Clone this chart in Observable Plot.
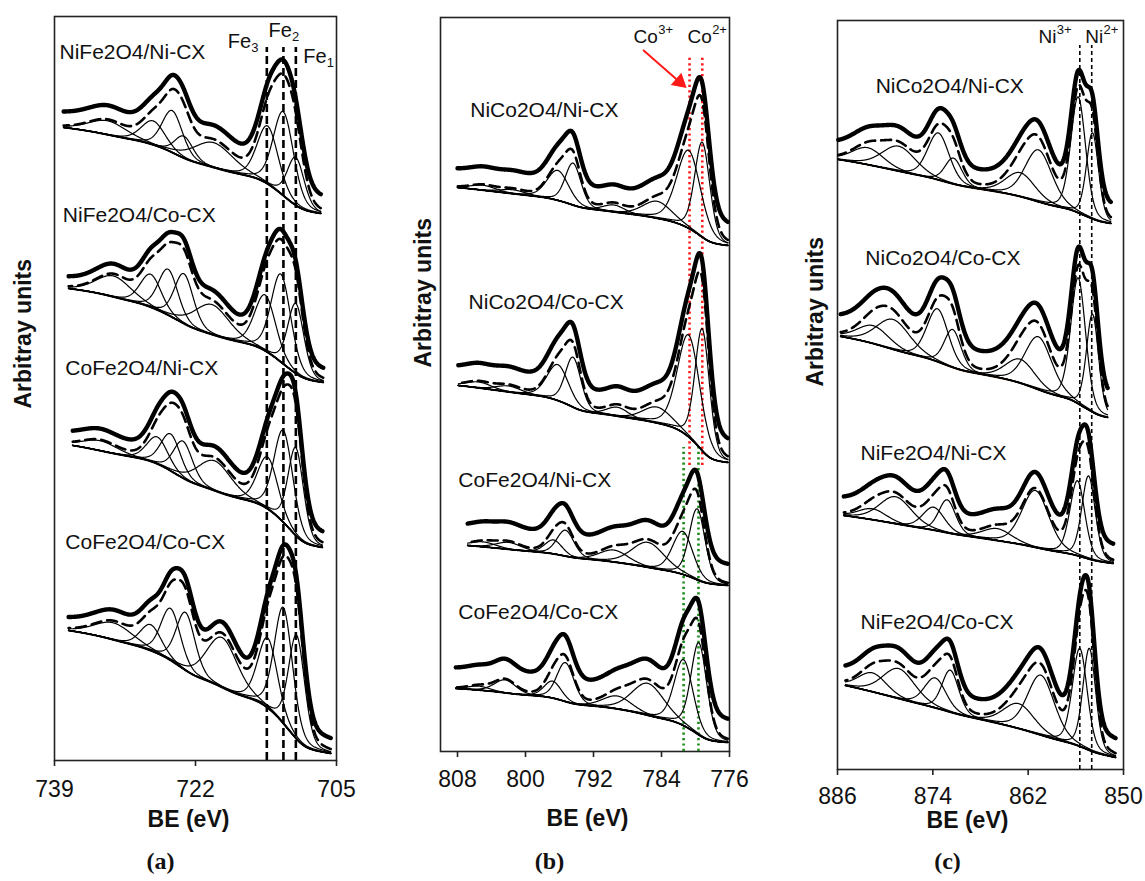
<!DOCTYPE html>
<html><head><meta charset="utf-8">
<script src="https://cdn.jsdelivr.net/npm/d3@7"></script>
<script src="https://cdn.jsdelivr.net/npm/@observablehq/plot@0.6"></script>
<style>
body{margin:0;background:#fff;}
#fig{position:relative;width:1145px;height:881px;overflow:hidden;background:#fff;}
#fig svg{position:absolute;top:0;}
</style></head><body><div id="fig"></div>
<script>
// ---------- DATA ----------
// Peaks: [binding energy (eV), height above background (arb.), FWHM (eV)]
// Background: [level at low-BE end, linear rise, Shirley step]
const feSamples = ["NiFe2O4/Ni-CX", "NiFe2O4/Co-CX", "CoFe2O4/Ni-CX", "CoFe2O4/Co-CX"];
const feScan = [[737.9, 706.9], [737.3, 706.6], [736.8, 706.7], [737.3, 705.7]];
const feBackground = [[547, 30, 56], [378, 32, 62], [213, 35, 67], [7, 38, 85]];
const feOffset = [14, 10, 11, 11];
const fePeaks = [
  [[732.6, 14, 5.4], [727.1, 24, 3.4], [724.8, 42, 2.9], [723.4, 22, 2.6], [719.8, 25, 5.6], [713.3, 58, 3.0], [711.4, 84, 2.9], [709.9, 48, 2.4]],
  [[731.9, 21, 5.0], [727.4, 33, 3.0], [725.3, 46, 2.8], [723.4, 50, 2.7], [720.0, 30, 5.0], [713.6, 56, 3.0], [711.7, 88, 2.8], [709.9, 70, 2.3]],
  [[733.5, 10, 5.0], [726.6, 27, 3.0], [725.0, 37, 2.8], [723.5, 37, 2.7], [719.7, 30, 4.8], [713.3, 52, 2.9], [711.4, 92, 2.7], [709.9, 88, 2.2]],
  [[731.9, 17, 5.5], [727.4, 26, 3.0], [725.0, 52, 2.8], [723.2, 58, 2.7], [718.8, 50, 4.4], [713.3, 70, 2.8], [711.4, 116, 2.6], [709.8, 104, 2.3]]
];
const feLines = [713.4, 711.4, 709.9];

const coSamples = ["NiCo2O4/Ni-CX", "NiCo2O4/Co-CX", "CoFe2O4/Ni-CX", "CoFe2O4/Co-CX"];
const coScan = [[808.0, 776.2], [807.9, 776.2], [806.8, 776.2], [808.2, 776.2]];
const coBackground = [[506, 25, 33], [289, 25, 52], [166, 18, 22], [9, 15, 39]];
const coOffset = [18, 18, 19, 20];
const coPeaks = [
  [[805.0, 5, 3.5], [801.5, 4, 3.5], [796.2, 30, 3.0], [794.4, 42, 2.2], [789.6, 7, 3.0], [784.5, 17, 4.0], [780.8, 78, 3.3], [779.2, 95, 2.1]],
  [[805.5, 6, 3.5], [802.0, 6, 3.5], [796.2, 36, 3.0], [794.4, 50, 2.2], [789.2, 9, 3.0], [784.5, 16, 4.0], [780.8, 102, 3.1], [779.2, 122, 2.0]],
  [[805.0, 5, 3.5], [802.0, 7, 3.5], [796.7, 14, 2.4], [795.3, 26, 2.4], [789.6, 12, 4.0], [785.6, 25, 4.5], [781.5, 43, 2.8], [779.8, 71, 2.2]],
  [[805.5, 4, 3.0], [802.4, 13, 3.0], [796.8, 17, 2.4], [795.3, 39, 2.4], [789.2, 13, 4.0], [785.6, 32, 4.5], [781.4, 66, 2.6], [779.6, 92, 2.2]]
];
const coLinesRed = [780.7, 779.2];
const coLinesGreen = [781.4, 779.65];

const niSamples = ["NiCo2O4/Ni-CX", "NiCo2O4/Co-CX", "NiFe2O4/Ni-CX", "NiFe2O4/Co-CX"];
const niScan = [[885.9, 851.6], [885.6, 852.0], [885.2, 851.3], [885.0, 851.0]];
const niBackground = [[546, 40, 24], [352, 45, 36], [206, 36, 12], [12, 58, 14]];
const niOffset = [15, 18, 16, 15];
const niPeaks = [
  [[882.2, 17, 4.7], [878.3, 25, 5.0], [873.3, 47, 3.2], [871.4, 26, 2.5], [863.0, 24, 4.4], [860.7, 52, 4.0], [855.7, 116, 2.2], [853.9, 86, 1.8]],
  [[881.5, 18, 4.7], [879.0, 30, 5.0], [873.4, 53, 3.2], [871.5, 38, 2.5], [863.0, 24, 4.4], [860.7, 53, 4.0], [855.7, 126, 2.2], [853.9, 98, 1.8]],
  [[881.6, 11, 4.2], [878.7, 27, 4.8], [873.9, 23, 3.2], [872.2, 33, 2.5], [865.9, 12, 4.4], [861.1, 57, 4.0], [855.8, 75, 2.2], [854.4, 83, 2.0]],
  [[881.6, 19, 4.2], [878.3, 30, 4.8], [873.7, 30, 3.2], [871.8, 42, 2.5], [863.2, 25, 4.6], [860.4, 60, 4.0], [855.5, 98, 2.2], [854.3, 102, 1.9]]
];
const niLines = [855.5, 854.0];

// ---------- MODEL EVALUATION ----------
const MIX = 0.25;
function profile(x, c, h, w) {
  const d2 = 4 * ((x - c) / w) ** 2;
  return h * ((1 - MIX) * Math.exp(-Math.LN2 * d2) + MIX / (1 + d2));
}
function spectrumRows(id, scan, bgPar, peaks, offset, out) {
  const [hi, lo] = scan;
  const n = Math.round((hi - lo) / 0.05);
  const xs = d3.range(n + 1).map(i => lo + (hi - lo) * i / n);
  const comps = peaks.map(([c, h, w]) => xs.map(x => profile(x, c, h, w)));
  const sum = xs.map((_, i) => d3.sum(comps, cc => cc[i]));
  const cum = d3.cumsum(sum), tot = cum[n];
  const [yR, lin, step] = bgPar;
  const bg = xs.map((x, i) => yR + lin * (x - lo) / (hi - lo) + step * cum[i] / tot);
  xs.forEach((x, i) => {
    out.bg.push({be: x, v: bg[i], id});
    out.env.push({be: x, v: bg[i] + sum[i], id});
    out.data.push({be: x, v: bg[i] + sum[i] + offset, id});
    comps.forEach((cc, k) => out.comp.push({be: x, v: bg[i] + cc[i], id: id + "-" + k}));
  });
}

// ---------- LAYOUT ----------
const FONT = "'Liberation Sans', Arial, Helvetica, sans-serif";
const panels = [
  {key: "a", samples: feSamples, scan: feScan, background: feBackground, offset: feOffset, peaks: fePeaks,
   L0: 0, W: 380, left: 54, right: 336, top: 16, bottom: 760, domain: [739, 705], ticks: [739, 722, 705], tickPad: 14,
   labelAt: [[738.4, 708], [738.0, 545], [737.7, 392], [737.7, 218]],
   bgColor: ["black", "black", "black", "black"],
   ylab: [-31, 20], xlab: [-7, 66], letter: [-35, 108],
   rules: [{xs: feLines, y1: 0, y2: 713, stroke: "black", dash: "8,4", width: 2.6}],
   ions: [{t: "Fe", s: "3", x: 718.1, y: 719, sup: false}, {t: "Fe", s: "2", x: 713.2, y: 730, sup: false}, {t: "Fe", s: "1", x: 709.0, y: 704, sup: false}],
   ionSize: 20},
  {key: "b", samples: coSamples, scan: coScan, background: coBackground, offset: coOffset, peaks: coPeaks,
   L0: 380, W: 390, left: 440, right: 729, top: 17, bottom: 751, domain: [810, 776], ticks: [808, 800, 792, 784, 776], tickPad: 13,
   labelAt: [[806.5, 641], [806.7, 449], [807.9, 271], [807.9, 139]],
   bgColor: ["black", "black", "black", "black"],
   ylab: [-17, -17], xlab: [2.5, 74], letter: [-35.5, 117],
   rules: [{xs: coLinesRed, y1: 286, y2: 696, stroke: "#ff1a1a", dash: "2.2,3.2", width: 2.6},
           {xs: coLinesGreen, y1: 0, y2: 304, stroke: "#1a8a1a", dash: "2.2,3.2", width: 2.6}],
   arrow: {x1: 786.1, y1: 701, x2: 781.4, y2: 666},
   ions: [{t: "Co", s: "3+", x: 787.3, y: 715, sup: true}, {t: "Co", s: "2+", x: 780.95, y: 715, sup: true}],
   ionSize: 19},
  {key: "c", samples: niSamples, scan: niScan, background: niBackground, offset: niOffset, peaks: niPeaks,
   L0: 770, W: 375, left: 837, right: 1123, top: 20, bottom: 769, domain: [886, 850], ticks: [886, 874, 862, 850], tickPad: 12,
   labelAt: [[881.2, 683], [882.5, 511], [883.1, 316], [883.1, 147]],
   bgColor: ["#4a2a12", "#4a2a12", "black", "black"],
   ylab: [-22, -8.5], xlab: [-13, 58], letter: [-33, 99],
   rules: [{xs: niLines, y1: 0, y2: 724, stroke: "black", dash: "4,3", width: 1.6}],
   ions: [{t: "Ni", s: "3+", x: 860.7, y: 733, sup: true}, {t: "Ni", s: "2+", x: 854.8, y: 733, sup: true}],
   ionSize: 19}
];

const fig = document.getElementById("fig");
for (const P of panels) {
  const rows = {bg: [], comp: [], env: [], data: []};
  P.samples.forEach((name, k) => spectrumRows(P.key + k, P.scan[k], P.background[k], P.peaks[k], P.offset[k], rows));
  const bgById = new Map(P.samples.map((_, k) => [P.key + k, P.bgColor[k]]));
  const labels = P.samples.map((name, k) => ({name, be: P.labelAt[k][0], v: P.labelAt[k][1]}));
  const charW = P.ionSize * (P.key === "a" ? 1.17 : (P.key === "b" ? 1.3 : 0.96));
  const marks = [
    Plot.frame({stroke: "#222", strokeWidth: 1.6}),
    Plot.axisX({ticks: P.ticks, tickSize: 6, tickPadding: P.tickPad, fontSize: 23, label: null, stroke: "#222", strokeWidth: 1.6}),
    ...P.rules.map(r => Plot.ruleX(r.xs, {x: d => d, y1: r.y1, y2: r.y2, stroke: r.stroke, strokeDasharray: r.dash, strokeWidth: r.width})),
    Plot.line(rows.bg, {x: "be", y: "v", z: "id", stroke: d => bgById.get(d.id), strokeWidth: 1.8}),
    Plot.line(rows.comp, {x: "be", y: "v", z: "id", stroke: "black", strokeWidth: 1.2}),
    Plot.line(rows.env, {x: "be", y: "v", z: "id", stroke: "black", strokeWidth: 2.6, strokeDasharray: "10,6"}),
    Plot.line(rows.data, {x: "be", y: "v", z: "id", stroke: "black", strokeWidth: 4.4, strokeLinejoin: "round"}),
    Plot.text(labels, {x: "be", y: "v", text: "name", textAnchor: "start", fontSize: 21, fill: "#111"}),
    Plot.text(P.ions, {x: "x", y: "y", text: "t", textAnchor: "start", fontSize: P.ionSize, fill: "#111"}),
    Plot.text(P.ions, {x: "x", y: "y", text: "s", textAnchor: "start", fontSize: 13, fill: "#111",
      dx: charW, dy: P.ions[0].sup ? -7 : 6}),
    Plot.text(["Arbitray units"], {frameAnchor: "left", text: d => d, rotate: -90, dx: P.ylab[0], dy: P.ylab[1], fontSize: 23, fontWeight: "bold"}),
    Plot.text(["BE (eV)"], {frameAnchor: "bottom", text: d => d, dx: P.xlab[0], dy: P.xlab[1], fontSize: 23, fontWeight: "bold"}),
    Plot.text(["(" + P.key + ")"], {frameAnchor: "bottom", text: d => d, dx: P.letter[0], dy: P.letter[1], fontSize: 24, fontWeight: "bold", fontFamily: "'Liberation Serif', 'DejaVu Serif', serif"})
  ];
  if (P.arrow) {
    marks.push(Plot.arrow([P.arrow], {x1: "x1", y1: "y1", x2: "x2", y2: "y2", stroke: "#ff1a1a", strokeWidth: 2, headLength: 0, insetEnd: 6}));
    marks.push(Plot.dot([P.arrow], {x: "x2", y: "y2", symbol: "triangle", rotate: 131, r: 6, fill: "#ff1a1a", stroke: "none", dx: -4, dy: -3.5}));
  }
  const svg = Plot.plot({
    width: P.W, height: 881,
    marginLeft: P.left - P.L0, marginRight: P.L0 + P.W - P.right,
    marginTop: P.top, marginBottom: 881 - P.bottom,
    x: {domain: P.domain},
    y: {domain: [0, P.bottom - P.top], axis: null},
    style: {fontFamily: FONT, fontSize: "20px", background: "transparent", color: "#111", overflow: "visible"},
    marks
  });
  svg.style.left = P.L0 + "px";
  fig.appendChild(svg);
}
</script></body></html>
